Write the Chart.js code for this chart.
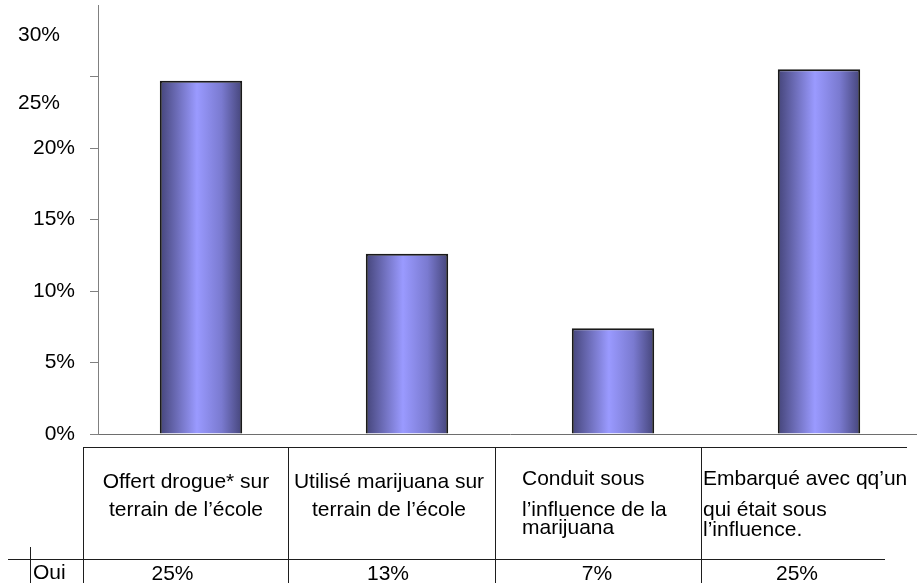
<!DOCTYPE html>
<html>
<head>
<meta charset="utf-8">
<script src="https://cdn.jsdelivr.net/npm/chart.js@4/dist/chart.umd.min.js"></script>
<style>
  html, body { margin: 0; padding: 0; background: #fff; overflow: hidden; width: 917px; height: 583px; }
  #wrap { position: relative; width: 922px; height: 583px; }
  #c { position: absolute; left: 0; top: 0; }
  .ln { position: absolute; background: #1e1e1e; }
  .tx { position: absolute; font-family: 'Liberation Sans', Arial, sans-serif; font-size: 21px; line-height: 21px; color: #000; white-space: nowrap; }
</style>
</head>
<body>
<div id="wrap">
  <canvas id="c" width="922" height="583"></canvas>
  <div id="table"></div>
</div>
<script>
// ---- data ----
const categories = [
  ["Offert drogue* sur", "terrain de l’école"],
  ["Utilisé marijuana sur", "terrain de l’école"],
  ["Conduit sous", "l’influence de la", "marijuana"],
  ["Embarqué avec qq’un", "qui était sous", "l’influence."]
];
const values = [24.7, 12.6, 7.4, 25.5];
const tableValues = ["25%", "13%", "7%", "25%"];
const rowLabel = "Oui";
const yTickValues = [0, 5, 10, 15, 20, 25, 30];
const yTickLabels = ["0%", "5%", "10%", "15%", "20%", "25%", "30%"];

// ---- chart ----
const FONT = "'Liberation Sans', Arial, sans-serif";
const BAR_PCT = 0.4;

function barGradient(c) {
  const ch = c.chart;
  const xs = ch.scales && ch.scales.x;
  if (!xs || !ch.chartArea) return '#8080e0';
  const cx = xs.getPixelForValue(c.dataIndex);
  const w = (xs.width / values.length) * BAR_PCT;
  const g = ch.ctx.createLinearGradient(cx - w / 2, 0, cx + w / 2, 0);
  g.addColorStop(0, '#45457a');
  g.addColorStop(0.45, '#9a9aff');
  g.addColorStop(0.75, '#7a7ad0');
  g.addColorStop(1, '#45457a');
  return g;
}

// the two upper tick labels sit lower than their ticks in the reference
const offsetLabels = {
  id: 'offsetLabels',
  afterDraw(chart) {
    const ys = chart.scales.y;
    const ctx = chart.ctx;
    ctx.save();
    ctx.font = '21px ' + FONT;
    ctx.fillStyle = '#000';
    ctx.textAlign = 'right';
    ctx.textBaseline = 'middle';
    const shifts = { 25: 27, 30: 30 };
    yTickValues.forEach((v, i) => {
      if (shifts[v] !== undefined) {
        ctx.fillText(yTickLabels[i], 60, ys.getPixelForValue(v) + shifts[v]);
      }
    });
    ctx.restore();
  }
};

new Chart(document.getElementById('c'), {
  type: 'bar',
  data: {
    labels: categories,
    datasets: [{
      data: values,
      backgroundColor: barGradient,
      borderColor: '#1a1a1a',
      borderWidth: { top: 2, left: 2, right: 2, bottom: 0 },
      borderSkipped: 'start',
      barPercentage: BAR_PCT,
      categoryPercentage: 1
    }]
  },
  options: {
    responsive: false,
    animation: false,
    devicePixelRatio: 1,
    layout: { padding: { top: 5, bottom: 149, left: 0, right: 0 } },
    plugins: { legend: { display: false }, tooltip: { enabled: false } },
    scales: {
      x: {
        ticks: { display: false },
        grid: { display: false },
        border: { display: true, color: '#6e6e6e', width: 1 },
        afterFit(s) { s.height = 0; s.paddingLeft = 0; s.paddingRight = 0; }
      },
      y: {
        min: 0,
        max: 30,
        afterFit(s) { s.width = 98; s.paddingTop = 0; s.paddingBottom = 0; },
        afterBuildTicks(s) { s.ticks = yTickValues.map(v => ({ value: v })); },
        ticks: {
          padding: 15,
          color: '#000',
          font: { family: FONT, size: 21 },
          callback: (v) => {
            const i = yTickValues.indexOf(v);
            if (v === 25 || v === 30) return '';
            return i >= 0 ? yTickLabels[i] : '';
          }
        },
        grid: {
          drawOnChartArea: false,
          drawTicks: true,
          tickLength: 8,
          color: (c) => (c.tick && c.tick.value === 30) ? 'rgba(0,0,0,0)' : '#808080'
        },
        border: { display: true, color: '#808080', width: 1 }
      }
    }
  },
  plugins: [offsetLabels]
});

// ---- data table under the chart ----
const tbl = document.getElementById('table');
function line(x, y, w, h) {
  const d = document.createElement('div');
  d.className = 'ln';
  d.style.left = x + 'px'; d.style.top = y + 'px';
  d.style.width = w + 'px'; d.style.height = h + 'px';
  tbl.appendChild(d);
}
function text(str, x, yc, align, width) {
  const d = document.createElement('div');
  d.className = 'tx';
  d.textContent = str;
  d.style.top = (yc - 10.5) + 'px';
  if (align === 'center') {
    d.style.left = (x - width / 2) + 'px';
    d.style.width = width + 'px';
    d.style.textAlign = 'center';
  } else {
    d.style.left = x + 'px';
  }
  tbl.appendChild(d);
}
line(83, 447, 824, 1);
[83, 288, 495, 701].forEach(x => line(x, 447, 1, 136));
line(8, 559, 877, 1);
line(30, 547, 1, 36);

const cellStyle = [
  { align: 'center', x: 186, ys: [480.5, 508] },
  { align: 'center', x: 389, ys: [480.5, 508] },
  { align: 'left', x: 522, ys: [477, 508, 526] },
  { align: 'left', x: 703, ys: [477, 508, 528] }
];
categories.forEach((lines, i) => {
  const st = cellStyle[i];
  lines.forEach((l, j) => text(l, st.x, st.ys[j], st.align, 205));
});
const valueCenters = [172.5, 388, 597, 797];
tableValues.forEach((v, i) => text(v, valueCenters[i], 572, 'center', 120));
text(rowLabel, 33, 571, 'left');
</script>
</body>
</html>
